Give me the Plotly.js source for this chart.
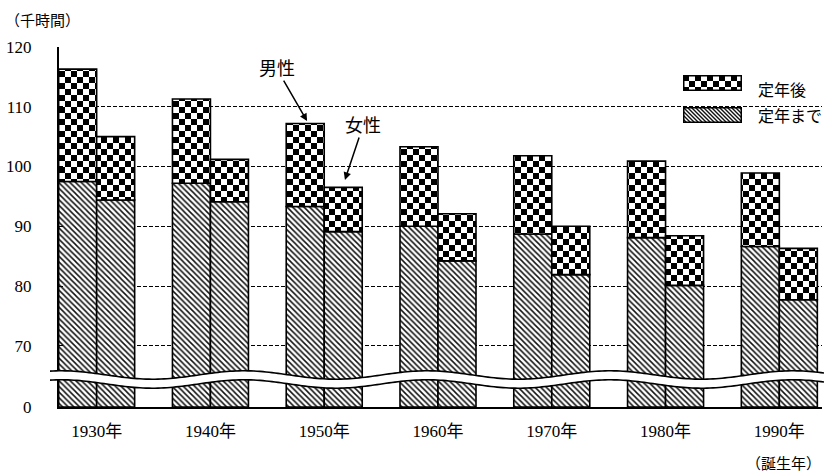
<!DOCTYPE html>
<html><head><meta charset="utf-8">
<script src="https://cdn.plot.ly/plotly-3.0.1.min.js"></script>
<style>body{margin:0;background:#fff}#chart{width:824px;height:472px}</style>
</head><body><div id="chart"></div>
<script>
// ---- data (thousand hours) ----
const cohorts = ['1930年','1940年','1950年','1960年','1970年','1980年','1990年'];
const maleBefore   = [97.5, 97.2, 93.3, 90.0, 88.7, 88.1, 86.6];   // 定年まで
const maleAfter    = [18.8, 14.1, 13.9, 13.3, 13.1, 12.8, 12.3];   // 定年後
const femaleBefore = [94.4, 94.1, 89.1, 84.2, 81.9, 80.1, 77.7];
const femaleAfter  = [10.6,  7.1,  7.4,  7.9,  8.1,  8.3,  8.6];
const yTickLabels  = ['0','70','80','90','100','110','120'];
const yTickValues  = [0, 70, 80, 90, 100, 110, 120];
const seriesNames  = ['定年まで','定年後'];

// broken axis: value 0 is shown at Y0
const Y0 = 59.75;
const disp = v => (v === 0 ? Y0 : v);

const FONT = "'Liberation Serif','Noto Sans CJK JP',serif";
const L = 59, R = 822, T = 47, B = 407;
const W = R - L, H = B - T;
const px2x = px => (px - L) / W;
const py2y = py => (B - py) / H;

const off = 0.167, bw = 0.334;
const xs = [...cohorts.map((c, i) => i - off), ...cohorts.map((c, i) => i + off)];
const before = [...maleBefore, ...femaleBefore];
const after = [...maleAfter, ...femaleAfter];

const data = [
  {
    type: 'bar', name: seriesNames[0], x: xs,
    y: before.map(v => v - Y0), base: before.map(() => Y0), width: bw,
    marker: {color: '#fff', line: {color: '#000', width: 1.6},
      pattern: {shape: '\\', fgcolor: '#111', bgcolor: '#fff', size: 4, solidity: 0.38}},
    hoverinfo: 'skip'
  },
  {
    type: 'bar', name: seriesNames[1], x: xs,
    y: after, base: before, width: bw,
    marker: {color: '#fff', line: {color: '#000', width: 1.6},
      pattern: {shape: '.', fgcolor: '#000', bgcolor: '#fff', size: 12, solidity: 0.3}},
    hoverinfo: 'skip'
  }
];

// wavy break band (decoration)
const waveTop = px => 375 - 4.2 * Math.cos(2 * Math.PI * (px - 427) / 183);
function wavePts(dy) {
  const pts = [];
  for (let px = 50; px <= 824; px += 3) pts.push([px2x(px), py2y(waveTop(px) + dy)]);
  return pts;
}
const topPts = wavePts(0), botPts = wavePts(9);
const toPath = pts => pts.map((p, i) => (i ? 'L' : 'M') + p[0].toFixed(5) + ',' + p[1].toFixed(5)).join(' ');
const bandPath = toPath(topPts) + ' ' + botPts.slice().reverse().map(p => 'L' + p[0].toFixed(5) + ',' + p[1].toFixed(5)).join(' ') + ' Z';

const shapes = [
  {type: 'path', xref: 'paper', yref: 'paper', path: bandPath, fillcolor: '#fff', line: {width: 0}, layer: 'above'},
  {type: 'path', xref: 'paper', yref: 'paper', path: toPath(topPts), line: {color: '#000', width: 1.6}, layer: 'above'},
  {type: 'path', xref: 'paper', yref: 'paper', path: toPath(botPts), line: {color: '#000', width: 1.6}, layer: 'above'}
];

const checkerSVG = '<svg xmlns="http://www.w3.org/2000/svg" width="59" height="16" viewBox="0 0 59 16">' +
  '<defs><pattern id="c" width="12" height="12" patternUnits="userSpaceOnUse"><rect width="12" height="12" fill="#fff"/>' +
  '<rect width="6" height="6" fill="#000"/><rect x="6" y="6" width="6" height="6" fill="#000"/></pattern></defs>' +
  '<rect x="0.75" y="0.75" width="57.5" height="14.5" fill="url(#c)" stroke="#000" stroke-width="1.5"/></svg>';
const hatchSVG = '<svg xmlns="http://www.w3.org/2000/svg" width="59" height="16" viewBox="0 0 59 16">' +
  '<defs><pattern id="h" width="4" height="4" patternUnits="userSpaceOnUse"><rect width="4" height="4" fill="#fff"/>' +
  '<path d="M0,0L4,4M-1,3L1,5M3,-1L5,1" stroke="#111" stroke-width="1.4"/></pattern></defs>' +
  '<rect x="0.75" y="0.75" width="57.5" height="14.5" fill="url(#h)" stroke="#000" stroke-width="1.5"/></svg>';
const uri = s => 'data:image/svg+xml;charset=utf-8,' + encodeURIComponent(s);

const images = [
  {source: uri(checkerSVG), xref: 'paper', yref: 'paper', x: px2x(683), y: py2y(75), sizex: 59 / W, sizey: 16 / H,
   xanchor: 'left', yanchor: 'top', sizing: 'stretch', layer: 'above'},
  {source: uri(hatchSVG), xref: 'paper', yref: 'paper', x: px2x(683), y: py2y(107), sizex: 59 / W, sizey: 16 / H,
   xanchor: 'left', yanchor: 'top', sizing: 'stretch', layer: 'above'}
];

const annotations = [
  {text: '男性', x: 1.849, y: 107.6, xref: 'x', yref: 'y', ax: -30, ay: -52, showarrow: true,
   arrowhead: 2, arrowsize: 1, arrowwidth: 1.5, arrowcolor: '#000', font: {size: 18, color: '#000'}},
  {text: '女性', x: 2.182, y: 97.76, xref: 'x', yref: 'y', ax: 18, ay: -54, showarrow: true,
   arrowhead: 2, arrowsize: 1, arrowwidth: 1.5, arrowcolor: '#000', font: {size: 18, color: '#000'}},
  {text: '（千時間）', xref: 'paper', yref: 'paper', x: px2x(3), y: py2y(21), xanchor: 'left', yanchor: 'middle',
   showarrow: false, font: {size: 15, color: '#000'}},
  {text: '（誕生年）', xref: 'paper', yref: 'paper', x: px2x(744), y: py2y(464), xanchor: 'left', yanchor: 'middle',
   showarrow: false, font: {size: 15, color: '#000'}},
  {text: seriesNames[1], xref: 'paper', yref: 'paper', x: px2x(756), y: py2y(90), xanchor: 'left', yanchor: 'middle',
   showarrow: false, font: {size: 16, color: '#000'}},
  {text: seriesNames[0], xref: 'paper', yref: 'paper', x: px2x(756), y: py2y(117), xanchor: 'left', yanchor: 'middle',
   showarrow: false, font: {size: 16, color: '#000'}}
];

const layout = {
  width: 824, height: 472,
  margin: {l: L, r: 824 - R, t: T, b: 472 - B},
  paper_bgcolor: '#fff', plot_bgcolor: '#fff',
  font: {family: FONT, color: '#000', size: 16},
  showlegend: false, barmode: 'overlay',
  xaxis: {range: [-0.331, 6.375], tickvals: cohorts.map((c, i) => i), ticktext: cohorts,
    showline: true, linecolor: '#000', linewidth: 2, ticks: '', showgrid: false, zeroline: false,
    tickfont: {size: 17}, ticklabelstandoff: 8, fixedrange: true},
  yaxis: {range: [Y0, 120], tickvals: yTickValues.map(disp), ticktext: yTickLabels,
    showline: true, linecolor: '#000', linewidth: 2, ticks: 'inside', ticklen: 4, tickcolor: '#000', tickwidth: 1,
    showgrid: true, gridcolor: '#000', gridwidth: 1, griddash: '4px,2px', zeroline: false,
    tickfont: {size: 17}, ticklabelstandoff: 22, fixedrange: true},
  shapes, images, annotations
};

Plotly.newPlot('chart', data, layout, {staticPlot: true, displayModeBar: false}).then(gd => {
  const NS = 'http://www.w3.org/2000/svg';
  document.querySelectorAll('pattern').forEach(p => {
    if (p.querySelector('circle')) {
      while (p.firstChild) p.removeChild(p.firstChild);
      p.setAttribute('width', 12); p.setAttribute('height', 12);
      p.removeAttribute('patternTransform');
      const mk = (x, y, w, h, f) => {
        const r = document.createElementNS(NS, 'rect');
        r.setAttribute('x', x); r.setAttribute('y', y); r.setAttribute('width', w); r.setAttribute('height', h);
        r.setAttribute('fill', f); p.appendChild(r);
      };
      mk(0, 0, 12, 12, '#fff'); mk(0, 0, 6, 6, '#000'); mk(6, 6, 6, 6, '#000');
    }
  });
});
</script></body></html>
